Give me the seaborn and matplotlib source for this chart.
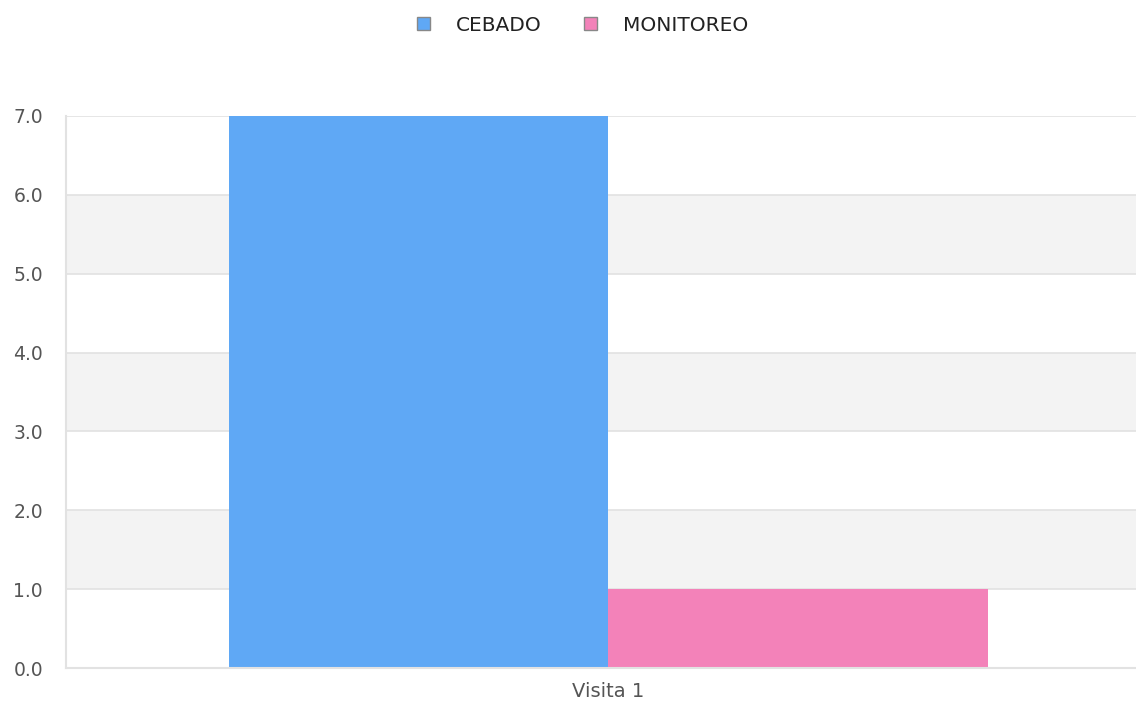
import matplotlib
matplotlib.use("Agg")
import matplotlib.pyplot as plt
import seaborn as sns
import pandas as pd
from matplotlib.patches import Patch

categories = ["Visita 1"]
series = ["CEBADO", "MONITOREO"]
cebado = [7.0]
monitoreo = [1.0]
yticks = [0, 1, 2, 3, 4, 5, 6, 7]
colors = ["#5fa8f5", "#f382b9"]

rows = []
for i, c in enumerate(categories):
    rows.append({"cat": c, "serie": series[0], "val": cebado[i]})
    rows.append({"cat": c, "serie": series[1], "val": monitoreo[i]})
df = pd.DataFrame(rows)

sns.set_theme(style="white")
plt.rcParams['font.family'] = ['DejaVu Sans']

fig = plt.figure(figsize=(11.36, 7.06), dpi=100)
ax = fig.add_axes([0.0581, 0.0538, 0.9419, 0.7819])

# alternating bands
for lo in (1, 3, 5):
    ax.axhspan(lo, lo + 1, color="#f3f3f3", zorder=0, lw=0)
for y in yticks:
    ax.axhline(y, color="#e2e2e2", lw=1.2, zorder=0.5)

sns.barplot(data=df, x="cat", y="val", hue="serie", palette=colors,
            width=0.71, saturation=1, ax=ax, legend=False, zorder=2,
            linewidth=0, errorbar=None)

ax.set_xlim(-0.507, 0.493)
ax.set_ylim(0, 7)
ax.set_yticks(yticks)
ax.set_yticklabels([f"{v:.1f}" for v in yticks])
ax.set_xlabel("")
ax.set_ylabel("")
ax.tick_params(axis="both", length=0, labelcolor="#555555")
ax.tick_params(axis="y", pad=16.5, labelsize=13.5)
ax.tick_params(axis="x", pad=10, labelsize=14)
for s in ("top", "right"):
    ax.spines[s].set_visible(False)
for s in ("left", "bottom"):
    ax.spines[s].set_color("#e2e2e2")
    ax.spines[s].set_linewidth(1.5)
    ax.spines[s].set_zorder(3)

handles = [Patch(facecolor=colors[i], edgecolor="#888888", lw=1, label=series[i]) for i in range(2)]
fig.legend(handles=handles, loc="upper center", bbox_to_anchor=(0.513, 1.003), ncol=2,
           frameon=False, fontsize=14.5, handlelength=0.62, handleheight=0.62,
           columnspacing=2.1, handletextpad=1.3, labelcolor="#222222")

fig.savefig("out.png", dpi=100)
